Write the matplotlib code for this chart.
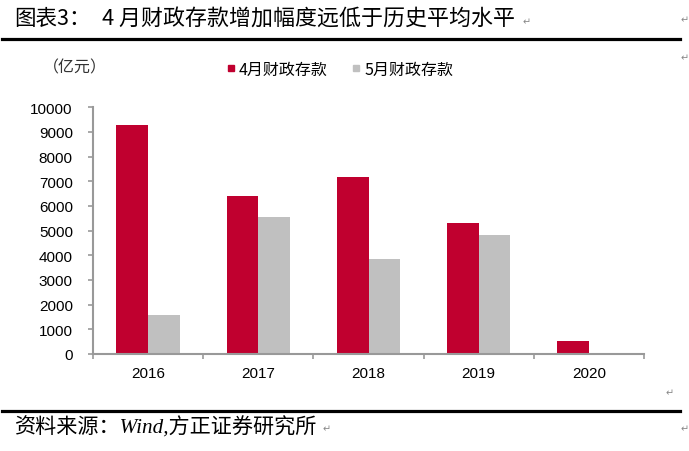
import numpy as np
import matplotlib
matplotlib.use("Agg")
import matplotlib.pyplot as plt
from matplotlib.lines import Line2D

plt.rcParams['font.family'] = ['Noto Sans CJK SC', 'DejaVu Sans']

# data (亿元)
years = ["2016", "2017", "2018", "2019", "2020"]
april_deposit = [9300, 6420, 7170, 5330, 510]
may_deposit = [1600, 5550, 3850, 4830, np.nan]
yticks = [0, 1000, 2000, 3000, 4000, 5000, 6000, 7000, 8000, 9000, 10000]
series_names = ["4月财政存款", "5月财政存款"]

RED = "#C0002F"
GRAY = "#C0C0C0"
AXIS_GRAY = "#999999"

W, H = 689, 452
fig = plt.figure(figsize=(W / 100, H / 100), dpi=100)
ax = fig.add_axes([93 / W, 1 - 355 / H, (644 - 93) / W, (355 - 108.3) / H])

x = np.arange(len(years))
bw = 0.287
ax.bar(x - bw / 2, april_deposit, width=bw, color=RED, label=series_names[0])
ax.bar(x + bw / 2, may_deposit, width=bw, color=GRAY, label=series_names[1])

ax.set_xlim(-0.5, len(years) - 0.5)
ax.set_ylim(0, 10000)
ax.set_yticks(yticks)
ax.set_yticklabels([str(v) for v in yticks], family="Liberation Sans", fontsize=11)
ax.set_xticks(x)
ax.set_xticklabels(years, family="Liberation Sans", fontsize=11)
ax.set_xticks(np.arange(-0.5, len(years)), minor=True)
ax.tick_params(axis="x", which="major", length=0, pad=9)
ax.tick_params(axis="x", which="minor", length=3.5, width=1.2, color=AXIS_GRAY, direction="out")
ax.tick_params(axis="y", length=3.5, width=1.2, color=AXIS_GRAY, pad=11)

for side in ["top", "right"]:
    ax.spines[side].set_visible(False)
for side in ["left", "bottom"]:
    ax.spines[side].set_color(AXIS_GRAY)
    ax.spines[side].set_linewidth(1.5)

# legend
handles = [Line2D([], [], marker="s", linestyle="none", markersize=5, color=RED),
           Line2D([], [], marker="s", linestyle="none", markersize=5, color=GRAY)]
fig.legend(handles, series_names, loc="center left", bbox_to_anchor=(226 / W, 1 - 70 / H),
           ncol=2, frameon=False, fontsize=11.5, handlelength=0.6, handletextpad=0.2,
           columnspacing=1.5, borderaxespad=0, borderpad=0)

fig.text(43 / W, 1 - 68 / H, "（亿元）", fontsize=11.5, va="center", ha="left", color="#333333")

# title and rules
fig.text(14 / W, 1 - 19 / H, "图表3：", fontsize=15.5, va="center", ha="left")
fig.text(102 / W, 1 - 19 / H, "4 月财政存款增加幅度远低于历史平均水平", fontsize=15.8,
         va="center", ha="left")
fig.add_artist(Line2D([2 / W, 680 / W], [1 - 40 / H, 1 - 40 / H], color="black", linewidth=2.3))
fig.add_artist(Line2D([2 / W, 680 / W], [1 - 411.5 / H, 1 - 411.5 / H], color="black", linewidth=2.3))

fig.text(15 / W, 1 - 428 / H, "资料来源：Wind,方正证券研究所", fontsize=15.2, va="center", ha="left",
         style="italic", family=["Liberation Serif", "Noto Sans CJK SC", "DejaVu Sans"])

# paragraph marks
for px, py in [(527, 22), (685, 20), (685, 58), (670, 393), (327, 429), (685, 429)]:
    fig.text(px / W, 1 - py / H, "\u21b5", fontsize=7, color="#888888", va="center", ha="center",
             family="DejaVu Sans")

fig.savefig("out.png", dpi=100)
